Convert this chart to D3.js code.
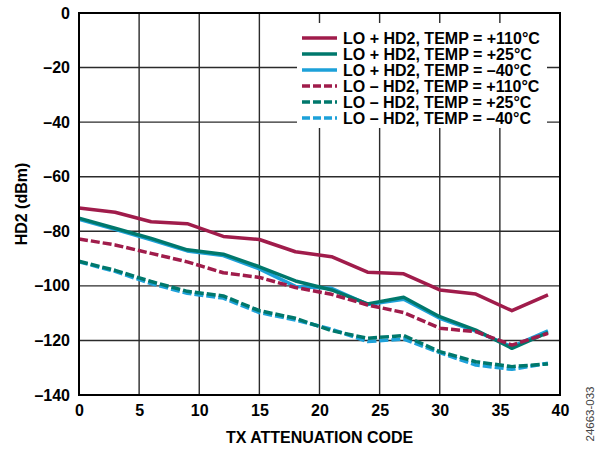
<!DOCTYPE html>
<html>
<head>
<meta charset="utf-8">
<script src="https://cdn.jsdelivr.net/npm/d3@7"></script>
<style>
  html, body { margin: 0; padding: 0; background: #fff; }
  svg { display: block; font-family: "Liberation Sans", Arial, sans-serif; }
</style>
</head>
<body>
<svg id="chart" width="597" height="451"></svg>
<script>
// TX attenuation code sweep (every third code)
const codes = [0, 3, 6, 9, 12, 15, 18, 21, 24, 27, 30, 33, 36, 39];

// HD2 in dBm for each LO sideband and temperature
const loPlus110  = [-71.5, -73.0, -76.5, -77.2, -81.9, -83.0, -87.5, -89.3, -95.0, -95.6, -101.5, -103.0, -109.1, -103.3];
const loPlus25   = [-75.2, -78.9, -82.6, -86.8, -88.4, -93.0, -98.2, -101.5, -106.6, -104.2, -111.3, -116.2, -122.9, -117.1];
const loPlus40   = [-75.6, -79.3, -83.1, -87.2, -88.9, -93.8, -100.2, -100.9, -106.8, -104.9, -111.9, -116.6, -122.3, -116.5];
const loMinus110 = [-82.8, -85.0, -88.1, -91.2, -95.2, -96.9, -100.6, -103.1, -107.0, -109.8, -115.5, -116.8, -121.7, -117.4];
const loMinus25  = [-91.0, -94.3, -98.4, -102.0, -103.7, -109.1, -111.9, -116.4, -119.2, -118.2, -124.1, -127.8, -129.6, -128.6];
const loMinus40  = [-91.2, -94.7, -99.2, -102.7, -104.5, -109.8, -112.5, -115.9, -120.4, -119.5, -124.5, -129.0, -130.6, -128.4];

const seriesLabels = [
  "LO + HD2, TEMP = +110°C",
  "LO + HD2, TEMP = +25°C",
  "LO + HD2, TEMP = –40°C",
  "LO – HD2, TEMP = +110°C",
  "LO – HD2, TEMP = +25°C",
  "LO – HD2, TEMP = –40°C"
];

const xTicks = [0, 5, 10, 15, 20, 25, 30, 35, 40];
const yTicks = [0, -20, -40, -60, -80, -100, -120, -140];

const RED = "#A01C4B", TEAL = "#00786C", BLUE = "#1DA1D9";

const series = [
  { label: seriesLabels[0], values: loPlus110,  color: RED,  dashed: false },
  { label: seriesLabels[1], values: loPlus25,   color: TEAL, dashed: false },
  { label: seriesLabels[2], values: loPlus40,   color: BLUE, dashed: false },
  { label: seriesLabels[3], values: loMinus110, color: RED,  dashed: true },
  { label: seriesLabels[4], values: loMinus25,  color: TEAL, dashed: true },
  { label: seriesLabels[5], values: loMinus40,  color: BLUE, dashed: true }
];

const svg = d3.select("#chart");
const plot = { left: 79, right: 560, top: 13, bottom: 395 };

const x = d3.scaleLinear().domain([0, 40]).range([plot.left, plot.right]);
const y = d3.scaleLinear().domain([-140, 0]).range([plot.bottom, plot.top]);

const fmt = v => (v < 0 ? "–" + Math.abs(v) : String(v));

// grid
const grid = svg.append("g");
grid.selectAll("line.v").data(xTicks.slice(1, -1)).join("line")
  .attr("x1", d => x(d)).attr("x2", d => x(d))
  .attr("y1", plot.top).attr("y2", plot.bottom)
  .attr("stroke", "#2b2b2b").attr("stroke-width", 1.4);
grid.selectAll("line.h").data(yTicks.slice(1, -1)).join("line")
  .attr("x1", plot.left).attr("x2", plot.right)
  .attr("y1", d => y(d)).attr("y2", d => y(d))
  .attr("stroke", "#2b2b2b").attr("stroke-width", 1.4);

// axes (labels only, the frame is drawn separately)
const xAxis = svg.append("g")
  .attr("transform", `translate(0,${plot.bottom})`)
  .call(d3.axisBottom(x).tickValues(xTicks).tickSize(0).tickPadding(10).tickFormat(d3.format("d")));
const yAxis = svg.append("g")
  .attr("transform", `translate(${plot.left},0)`)
  .call(d3.axisLeft(y).tickValues(yTicks).tickSize(0).tickPadding(9).tickFormat(fmt));
[xAxis, yAxis].forEach(a => {
  a.select(".domain").remove();
  a.selectAll("text")
    .attr("font-family", "'Liberation Sans', Arial, sans-serif")
    .attr("font-size", 16).attr("font-weight", "bold").attr("fill", "#000");
});

// lines
const line = d3.line().x(d => x(d[0])).y(d => y(d[1]));
const drawOrder = [2, 5, 1, 4, 0, 3];
drawOrder.forEach(i => {
  const s = series[i];
  svg.append("path")
    .datum(codes.map((c, k) => [c, s.values[k]]))
    .attr("d", line)
    .attr("fill", "none")
    .attr("stroke", s.color)
    .attr("stroke-width", 3.5)
    .attr("stroke-linejoin", "round")
    .attr("stroke-dasharray", s.dashed ? "9,3" : null);
});

// legend
const legend = svg.append("g");
legend.append("rect")
  .attr("x", 297).attr("y", 23).attr("width", 250).attr("height", 105)
  .attr("fill", "#fff");
series.forEach((s, i) => {
  const cy = 38 + i * 16;
  legend.append("line")
    .attr("x1", 302).attr("x2", 337).attr("y1", cy).attr("y2", cy)
    .attr("stroke", s.color).attr("stroke-width", 3.5)
    .attr("stroke-dasharray", s.dashed ? "8,3" : null);
  legend.append("text")
    .attr("x", 343).attr("y", cy).attr("dy", "0.36em")
    .attr("font-size", 16).attr("font-weight", "bold").attr("fill", "#000")
    .text(s.label);
});

// frame
svg.append("rect")
  .attr("x", plot.left).attr("y", plot.top)
  .attr("width", plot.right - plot.left).attr("height", plot.bottom - plot.top)
  .attr("fill", "none").attr("stroke", "#000").attr("stroke-width", 2);

// axis titles
svg.append("text")
  .attr("x", (plot.left + plot.right) / 2).attr("y", 443)
  .attr("text-anchor", "middle")
  .attr("font-size", 16).attr("font-weight", "bold")
  .text("TX ATTENUATION CODE");
svg.append("text")
  .attr("transform", `translate(27,${(plot.top + plot.bottom) / 2}) rotate(-90)`)
  .attr("text-anchor", "middle")
  .attr("font-size", 16).attr("font-weight", "bold")
  .text("HD2 (dBm)");

// figure number
svg.append("text")
  .attr("transform", "translate(594,414) rotate(-90)")
  .attr("text-anchor", "middle")
  .attr("font-size", 11.5).attr("fill", "#444")
  .text("24663-033");
</script>
</body>
</html>
